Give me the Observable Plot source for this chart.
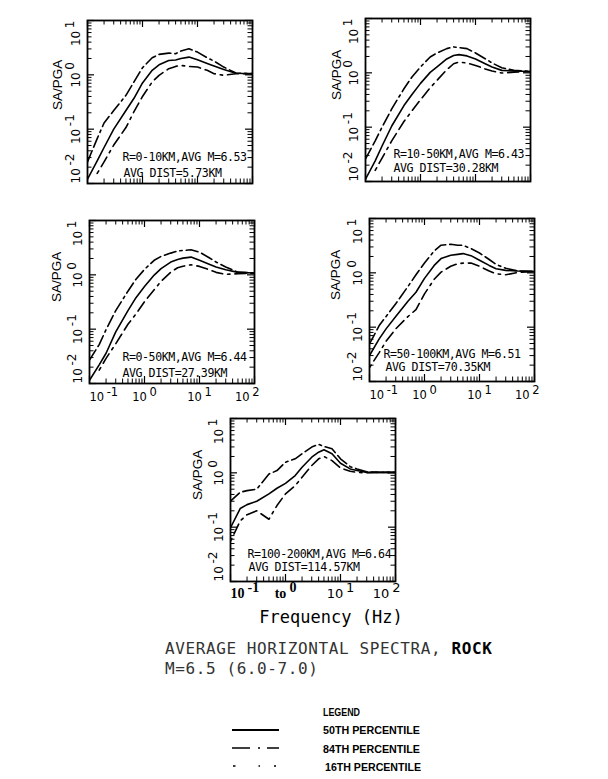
<!DOCTYPE html>
<html>
<head>
<meta charset="utf-8">
<script src="https://cdn.jsdelivr.net/npm/d3@7"></script>
<script src="https://cdn.jsdelivr.net/npm/@observablehq/plot@0.6"></script>
<style>
  html, body { margin: 0; padding: 0; background: #fff; }
  #root { position: relative; width: 608px; height: 779px; background: #fff; overflow: hidden; }
  #root svg { position: absolute; }
</style>
</head>
<body>
<div id="root"></div>
<script>
// ---------------- DATA ----------------
const freq = [0.1, 0.15, 0.2, 0.3, 0.5, 0.7, 1, 1.5, 2, 3, 4, 5, 7, 10, 15, 20, 30, 50, 100];

// Panel 1: R=0-10 km
const p1Median = [0.012, 0.026, 0.046, 0.10, 0.22, 0.37, 0.71, 1.21, 1.53, 1.83, 1.87, 2.0, 2.12, 1.9, 1.62, 1.45, 1.25, 1.07, 1.05];
const p1P84    = [0.025, 0.067, 0.13, 0.22, 0.42, 0.74, 1.35, 2.06, 2.38, 2.51, 2.45, 2.74, 3.02, 2.62, 2.06, 1.79, 1.39, 1.08, 1.05];
const p1P16    = [null, 0.0153, 0.025, 0.051, 0.107, 0.21, 0.40, 0.74, 0.98, 1.30, 1.43, 1.49, 1.43, 1.39, 1.21, 1.05, 0.98, 1.05, 1.05];

// Panel 2: R=10-50 km
const p2Median = [0.011, 0.024, 0.045, 0.105, 0.25, 0.40, 0.64, 1.02, 1.29, 1.80, 2.09, 2.16, 2.05, 1.80, 1.47, 1.28, 1.11, 1.08, 1.06];
const p2P84    = [0.026, 0.056, 0.10, 0.217, 0.51, 0.84, 1.28, 1.96, 2.32, 2.79, 3.0, 2.92, 2.79, 2.32, 1.82, 1.52, 1.24, 1.11, 1.06];
const p2P16    = [null, 0.016, 0.027, 0.056, 0.127, 0.20, 0.32, 0.53, 0.73, 1.14, 1.47, 1.58, 1.51, 1.37, 1.18, 1.08, 0.99, 1.03, 1.06];

// Panel 3: R=0-50 km
const p3Median = [0.0115, 0.022, 0.036, 0.089, 0.22, 0.38, 0.61, 0.99, 1.30, 1.72, 1.92, 2.03, 2.12, 1.85, 1.56, 1.39, 1.24, 1.11, 1.08];
const p3P84    = [0.027, 0.052, 0.098, 0.22, 0.50, 0.83, 1.26, 1.85, 2.18, 2.51, 2.74, 2.81, 2.89, 2.62, 2.06, 1.72, 1.39, 1.12, 1.08];
const p3P16    = [null, 0.0176, 0.029, 0.054, 0.123, 0.19, 0.32, 0.53, 0.76, 1.12, 1.35, 1.44, 1.53, 1.43, 1.24, 1.11, 1.02, 1.05, 1.08];

// Panel 4: R=50-100 km
const p4Median = [0.030, 0.061, 0.093, 0.157, 0.30, 0.44, 0.79, 1.37, 1.83, 2.10, 2.19, 2.26, 2.07, 1.70, 1.37, 1.19, 1.11, 1.08, 1.06];
const p4P84    = [0.049, 0.107, 0.157, 0.27, 0.56, 0.92, 1.52, 2.53, 3.22, 3.36, 3.22, 3.22, 2.79, 2.32, 1.76, 1.43, 1.21, 1.08, 1.06];
const p4P16    = [0.018, 0.034, 0.055, 0.093, 0.157, 0.21, 0.41, 0.76, 1.03, 1.32, 1.47, 1.51, 1.51, 1.32, 1.08, 0.96, 0.92, 1.02, 1.06];

// Panel 5: R=100-200 km
const p5Median = [0.0975, 0.22, 0.26, 0.30, 0.41, 0.52, 0.64, 0.89, 1.27, 1.94, 2.40, 2.66, 2.24, 1.50, 1.18, 1.10, 1.02, 1.02, 1.02];
const p5P84    = [0.30, 0.44, 0.47, 0.50, 0.95, 1.10, 1.57, 1.81, 2.24, 2.98, 3.34, 3.06, 2.77, 1.81, 1.30, 1.18, 1.05, 1.02, 1.02];
const p5P16    = [0.055, 0.13, 0.17, 0.20, 0.14, 0.25, 0.41, 0.58, 0.83, 1.36, 1.81, 2.00, 1.68, 1.23, 1.07, 1.02, 1.00, 1.02, 1.02];

// Annotations
const ann1 = ["R=0-10KM,AVG M=6.53", "AVG DIST=5.73KM"];
const ann2 = ["R=10-50KM,AVG M=6.43", "AVG DIST=30.28KM"];
const ann3 = ["R=0-50KM,AVG M=6.44", "AVG DIST=27.39KM"];
const ann4 = ["R=50-100KM,AVG M=6.51", "AVG DIST=70.35KM"];
const ann5 = ["R=100-200KM,AVG M=6.64", "AVG DIST=114.57KM"];

// Ticks & labels
const xTicks = [0.1, 1, 10, 100];
const xTickLabels = ["10^-1", "10^0", "10^1", "10^2"];
const xTickLabels5 = ["10^-1", "to^0", "10^1", "10^2"];
const yTicks = [0.01, 0.1, 1, 10];
const yTickLabels = ["10^-2", "10^-1", "10^0", "10^1"];
const yLabel = "SA/PGA";
const xLabel = "Frequency (Hz)";
const titleLine1 = "AVERAGE HORIZONTAL SPECTRA, ";
const titleRock = "ROCK";
const titleLine2 = "M=6.5 (6.0-7.0)";
const legendTitle = "LEGEND";
const legendLabels = ["50TH PERCENTILE", "84TH PERCENTILE", "16TH PERCENTILE"];

// minor tick positions (log decades)
const xMinor = [], yMinor = [];
for (const dec of [0.1, 1, 10]) for (let k = 2; k <= 9; k++) xMinor.push(k * dec);
for (const dec of [0.01, 0.1, 1]) for (let k = 2; k <= 9; k++) yMinor.push(k * dec);

// ---------------- LAYOUT ----------------
const W = 165, H = 163;
const ML = 52, MR = 14, MT = 8;
const panels = [
  {left: 87,  top: 20,  med: p1Median, p84: p1P84, p16: p1P16, ann: ann1, annOff: [[35, -22.5], [36, -6.5]], ylabOff: 30, ylabDy: 8, showX: false},
  {left: 365, top: 18,  med: p2Median, p84: p2P84, p16: p2P16, ann: ann2, annOff: [[28, -23.5], [28, -10]], ylabOff: 29, ylabDy: 0, showX: false},
  {left: 89,  top: 220, med: p3Median, p84: p3P84, p16: p3P16, ann: ann3, annOff: [[33, -23], [33, -7]], ylabOff: 33, ylabDy: 0, showX: true, xLabs: xTickLabels},
  {left: 369, top: 218, med: p4Median, p84: p4P84, p16: p4P16, ann: ann4, annOff: [[14, -24], [16, -10.5]], ylabOff: 34, ylabDy: 0, showX: true, xLabs: xTickLabels},
  {left: 230, top: 418, med: p5Median, p84: p5P84, p16: p5P16, ann: ann5, annOff: [[17, -24], [18, -10.5]], ylabOff: 32.5, ylabDy: 0, showX: true, xLabs: xTickLabels5, freqLabel: true}
];

const MONO = "DejaVu Sans Mono, monospace";
const SANS = "DejaVu Sans, sans-serif";

function rows(arr) {
  return freq.map((f, i) => ({f, v: arr[i]})).filter(d => d.v != null);
}

function applySupers(svg) {
  svg.querySelectorAll("text").forEach(t => {
    const s = t.textContent;
    if (t.children.length === 0 && s.includes("^")) {
      const [b, e] = s.split("^");
      t.textContent = b;
      const ts = document.createElementNS("http://www.w3.org/2000/svg", "tspan");
      ts.setAttribute("dx", "0.22em");
      ts.setAttribute("dy", "-0.45em");
      ts.textContent = e;
      t.appendChild(ts);
    }
  });
}

const root = document.getElementById("root");

// Title & legend (drawn beneath)
const notes = d3.select(root).append("svg")
  .attr("width", 608).attr("height", 779)
  .style("left", "0px").style("top", "0px");

const t1 = notes.append("text").attr("x", 165).attr("y", 654)
  .attr("font-family", MONO).attr("font-size", 16).attr("letter-spacing", 0.6).attr("fill", "#333");
t1.append("tspan").text(titleLine1);
t1.append("tspan").attr("font-weight", "bold").attr("fill", "#000").text(titleRock);
notes.append("text").attr("x", 165).attr("y", 673.5)
  .attr("font-family", MONO).attr("font-size", 16).attr("letter-spacing", 0.6).attr("fill", "#333").text(titleLine2);

const LEGF = "Liberation Sans Narrow, Liberation Sans, Arial, sans-serif";
notes.append("text").attr("x", 323).attr("y", 716).attr("font-family", LEGF)
  .attr("font-weight", "bold").attr("font-size", 11)
  .attr("textLength", 37).attr("lengthAdjust", "spacingAndGlyphs").text(legendTitle);
const legY = [734, 752.7, 770.7];
const legW = [97, 97, 96];
legendLabels.forEach((s, i) => {
  notes.append("text").attr("x", i === 2 ? 325 : 323).attr("y", legY[i]).attr("font-family", LEGF)
    .attr("font-weight", "bold").attr("font-size", 11)
    .attr("textLength", legW[i]).attr("lengthAdjust", "spacingAndGlyphs").text(s);
});
notes.append("line").attr("x1", 232).attr("x2", 279).attr("y1", 730).attr("y2", 730)
  .attr("stroke", "#000").attr("stroke-width", 2);
notes.append("line").attr("x1", 232).attr("x2", 279).attr("y1", 748).attr("y2", 748)
  .attr("stroke", "#000").attr("stroke-width", 1.6).attr("stroke-dasharray", "18,8,2,7,12");
notes.append("line").attr("x1", 233).attr("x2", 276).attr("y1", 766).attr("y2", 766)
  .attr("stroke", "#000").attr("stroke-width", 1.4).attr("stroke-dasharray", "2.5,23,1.5,14,3");

const allAnn = [ann1, ann2, ann3, ann4, ann5].flat();

// Panels
panels.forEach((cfg, pi) => {
  const MB = cfg.freqLabel ? 50 : 26;
  const yfmt = d => yTickLabels[yTicks.indexOf(d)];
  const yAxisCommon = {anchor: "left", label: null, tickSize: 0, tickPadding: 8, tickRotate: -90, tickFormat: yfmt, fontSize: 12, fontFamily: SANS};
  const marks = [
    Plot.frame({stroke: "#000", strokeWidth: 1.8}),
    // inward minor ticks
    Plot.tickX(xMinor, {x: d => d, insetTop: H - 4.5, stroke: "#000", strokeWidth: 1}),
    Plot.tickX(xMinor, {x: d => d, insetBottom: H - 4.5, stroke: "#000", strokeWidth: 1}),
    Plot.tickX(xTicks, {x: d => d, insetTop: H - 7, stroke: "#000", strokeWidth: 1.2}),
    Plot.tickX(xTicks, {x: d => d, insetBottom: H - 7, stroke: "#000", strokeWidth: 1.2}),
    Plot.tickY(yMinor, {y: d => d, insetRight: W - 4.5, stroke: "#000", strokeWidth: 1}),
    Plot.tickY(yMinor, {y: d => d, insetLeft: W - 4.5, stroke: "#000", strokeWidth: 1}),
    Plot.tickY(yTicks, {y: d => d, insetRight: W - 7, stroke: "#000", strokeWidth: 1.2}),
    Plot.tickY(yTicks, {y: d => d, insetLeft: W - 7, stroke: "#000", strokeWidth: 1.2}),
    // y tick labels
    Plot.axisY([0.1, 1], {...yAxisCommon}),
    Plot.axisY([0.01], {...yAxisCommon, textAnchor: "start"}),
    Plot.axisY([10], {...yAxisCommon, textAnchor: "end"}),
    // y label
    Plot.text([yLabel], {text: d => d, frameAnchor: "left", rotate: -90, dx: -cfg.ylabOff, dy: cfg.ylabDy,
      fontFamily: "Liberation Sans, Arial, sans-serif", fontSize: 13.5, fill: "#000"}),
    // curves
    Plot.line(rows(cfg.med), {x: "f", y: "v", stroke: "#000", strokeWidth: 1.6, clip: true}),
    Plot.line(rows(cfg.p84), {x: "f", y: "v", stroke: "#000", strokeWidth: 1.6, strokeDasharray: "12,4,12,4,2.4,4", clip: true}),
    Plot.line(rows(cfg.p16), {x: "f", y: "v", stroke: "#000", strokeWidth: 1.6, strokeDasharray: "11,5,11,5,2.4,5", strokeDashoffset: 8, clip: true}),
    // annotations
    ...cfg.ann.map((s, i) => Plot.text([s], {text: d => d, frameAnchor: "bottom-left", textAnchor: "start", lineAnchor: "bottom",
      dx: cfg.annOff[i][0], dy: cfg.annOff[i][1], fontFamily: MONO, fontSize: 11.6, fill: "#000"}))
  ];
  if (cfg.showX) {
    const isP5 = !!cfg.freqLabel;
    const anchors = ["start", "middle", "middle", "end"];
    const dxs = [0, 0, 0, 5];
    xTicks.forEach((t, i) => {
      const serif = isP5 && i < 2;
      marks.push(Plot.axisX([t], {anchor: "bottom", label: null, tickSize: 0, tickPadding: isP5 ? 7 : 9,
        textAnchor: anchors[i], dx: dxs[i],
        tickFormat: d => cfg.xLabs[xTicks.indexOf(d)],
        fontSize: serif ? 14 : (isP5 ? 13 : 11.5),
        fontFamily: serif ? "Liberation Serif, serif" : SANS,
        fontWeight: serif ? "bold" : "normal"}));
    });
  }
  if (cfg.freqLabel) {
    marks.push(Plot.text([xLabel], {text: d => d, frameAnchor: "bottom", lineAnchor: "bottom", dx: 18, dy: 41,
      fontFamily: MONO, fontSize: 17, fill: "#000"}));
  }
  const svg = Plot.plot({
    width: ML + W + MR,
    height: MT + H + MB,
    marginLeft: ML, marginRight: MR, marginTop: MT, marginBottom: MB,
    style: {background: "transparent", overflow: "visible"},
    x: {type: "log", domain: [0.1, 100], axis: null},
    y: {type: "log", domain: [0.01, 10], axis: null},
    marks
  });
  applySupers(svg);
  svg.querySelectorAll("text").forEach(t => {
    if (allAnn.includes(t.textContent)) {
      t.setAttribute("letter-spacing", "-0.45");
      t.style.letterSpacing = "-0.45px";
    }
  });
  svg.style.left = (cfg.left - ML) + "px";
  svg.style.top = (cfg.top - MT) + "px";
  root.appendChild(svg);
});
</script>
</body>
</html>
